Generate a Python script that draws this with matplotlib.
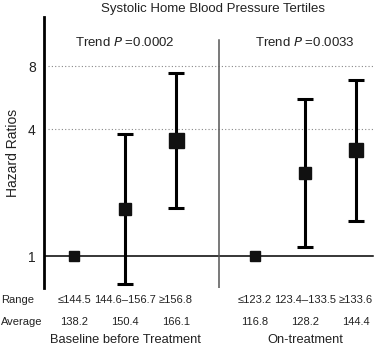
import matplotlib.pyplot as plt
import matplotlib.transforms as mtransforms

# Datos (razones de riesgo con IC 95%)
range_labels = ["≤144.5", "144.6–156.7", "≥156.8", "≤123.2", "123.4–133.5", "≥133.6"]
average_labels = ["138.2", "150.4", "166.1", "116.8", "128.2", "144.4"]
hazard_ratio = [1.0, 1.68, 3.57, 1.0, 2.48, 3.18]
ci_low = [1.0, 0.74, 1.70, 1.0, 1.11, 1.47]
ci_high = [1.0, 3.79, 7.45, 1.0, 5.59, 6.90]
group_names = ["Baseline before Treatment", "On-treatment"]
trend_p = ["0.0002", "0.0033"]

plt.rcParams['font.family'] = ['Liberation Sans', 'DejaVu Sans']
text_color = "#222222"

fig = plt.figure(figsize=(3.75, 3.49), dpi=100)
ax = fig.add_axes([44 / 375, 1 - 288 / 349, 331 / 375, 271 / 349])

x_pos = [1, 2, 3, 4.55, 5.53, 6.53]
marker_sizes = [6.5, 8.0, 10.8, 6.5, 8.6, 10.0]

ax.set_yscale("log", base=2)
ax.set_ylim(0.705, 13.7)
ax.set_xlim(0.41, 6.9)

# Líneas de referencia
ax.axhline(8, color="#888888", lw=0.8, ls=(0, (1, 2)), xmin=0.012)
ax.axhline(4, color="#888888", lw=0.8, ls=(0, (1, 2)), xmin=0.012)
ax.axhline(1, color="black", lw=1.1, xmax=0.995)
ax.axvline(3.84, color="#555555", lw=1.1, ymin=0, ymax=0.915)

for i in range(len(x_pos)):
    if ci_low[i] != ci_high[i]:
        ax.errorbar(x_pos[i], hazard_ratio[i],
                    yerr=[[hazard_ratio[i] - ci_low[i]], [ci_high[i] - hazard_ratio[i]]],
                    fmt="none", ecolor="black", elinewidth=2.2, capsize=6, capthick=2.2)
    ax.plot(x_pos[i], hazard_ratio[i], marker="s", color="#111111",
            markersize=marker_sizes[i], ls="none", zorder=5)

ax.set_yticks([1, 4, 8])
ax.set_yticklabels(["1", "4", "8"], fontsize=10, color=text_color)
ax.tick_params(axis="y", length=0, pad=6)
ax.set_xticks([])
for s in ["top", "right", "bottom"]:
    ax.spines[s].set_visible(False)
ax.spines["left"].set_linewidth(2)
ax.set_ylabel("Hazard Ratios", fontsize=10, color=text_color, labelpad=6)

trans = mtransforms.blended_transform_factory(ax.transData, fig.transFigure)

# Título y valores P de tendencia
fig.text(213 / 375, 1 - 9 / 349, "Systolic Home Blood Pressure Tertiles",
         ha="center", va="center", fontsize=9.5, color=text_color)
ax.text(2, 1 - 42 / 349, "Trend $P$ =" + trend_p[0], transform=trans,
        ha="center", va="center", fontsize=9.5, color=text_color)
ax.text(5.53, 1 - 42 / 349, "Trend $P$ =" + trend_p[1], transform=trans,
        ha="center", va="center", fontsize=9.5, color=text_color)

# Etiquetas debajo del eje
fig.text(1 / 375, 1 - 300 / 349, "Range", ha="left", va="center", fontsize=8, color=text_color)
fig.text(1 / 375, 1 - 322 / 349, "Average", ha="left", va="center", fontsize=8, color=text_color)
for i in range(len(x_pos)):
    ax.text(x_pos[i], 1 - 300 / 349, range_labels[i], transform=trans,
            ha="center", va="center", fontsize=8, color=text_color)
    ax.text(x_pos[i], 1 - 322 / 349, average_labels[i], transform=trans,
            ha="center", va="center", fontsize=8, color=text_color)
ax.text(2, 1 - 340 / 349, group_names[0], transform=trans,
        ha="center", va="center", fontsize=9.3, color=text_color)
ax.text(5.53, 1 - 340 / 349, group_names[1], transform=trans,
        ha="center", va="center", fontsize=9.3, color=text_color)

fig.savefig("out.png", dpi=100)
